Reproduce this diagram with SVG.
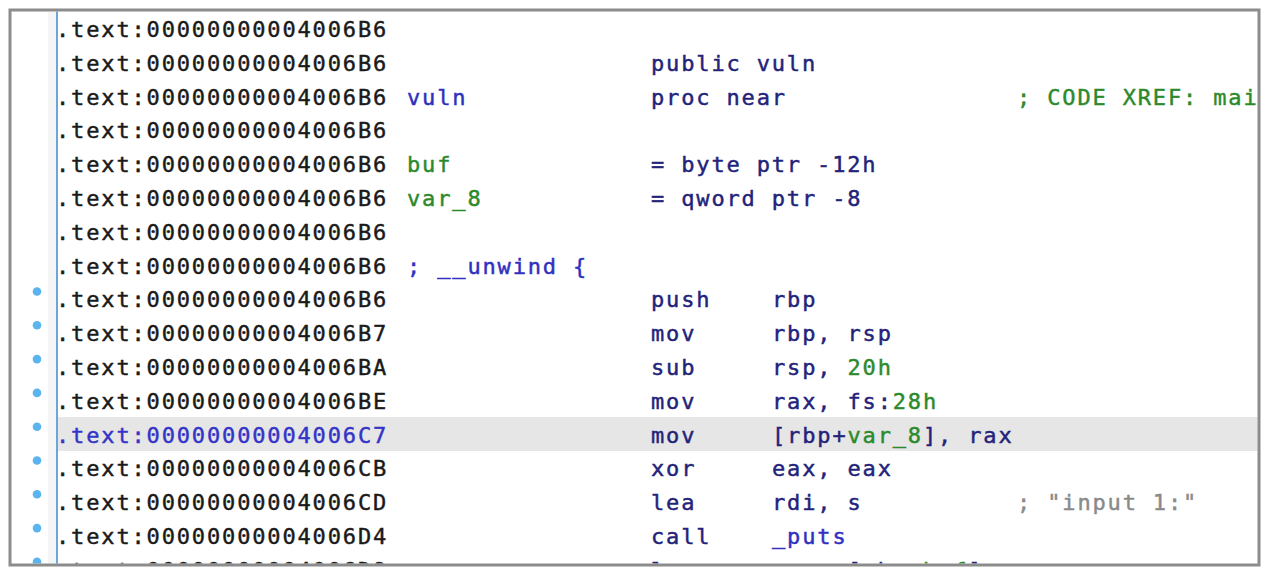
<svg xmlns="http://www.w3.org/2000/svg" width="1270" height="577" viewBox="0 0 1270 577">
<style>
text{font-family:"DejaVu Sans Mono","Liberation Mono",monospace;font-size:22px;letter-spacing:1.85px;white-space:pre;stroke-width:0.45px}
.a{fill:#1a1a1a;stroke:#1a1a1a}
.ah{fill:#3434c8;stroke:#3434c8}
.n{fill:#23237a;stroke:#23237a}
.b{fill:#3030c0;stroke:#3030c0}
.g{fill:#2c8a2c;stroke:#2c8a2c}
.c{fill:#8a8a8a;stroke:#8a8a8a}
.dot{fill:#5ab4ee}
</style>
<defs>
<clipPath id="clip"><rect x="11.5" y="11.5" width="1246" height="552"/></clipPath>
</defs>
<rect x="0" y="0" width="1270" height="577" fill="#ffffff"/>
<g id="listing" clip-path="url(#clip)">
<rect x="11" y="11" width="1248" height="554" fill="#ffffff"/>
<rect x="48" y="11" width="9" height="554" fill="#f5f5f5"/>
<rect id="highlight" x="58" y="417" width="1201" height="34" fill="#e6e6e6"/>
<line x1="57" y1="11" x2="57" y2="565" stroke="#6aa6dc" stroke-width="2"/>
<g id="dots">
<circle class="dot" cx="37" cy="291.5" r="4.3"/>
<circle class="dot" cx="37" cy="325.3" r="4.3"/>
<circle class="dot" cx="37" cy="359.1" r="4.3"/>
<circle class="dot" cx="37" cy="392.9" r="4.3"/>
<circle class="dot" cx="37" cy="426.7" r="4.3"/>
<circle class="dot" cx="37" cy="460.5" r="4.3"/>
<circle class="dot" cx="37" cy="494.3" r="4.3"/>
<circle class="dot" cx="37" cy="528.1" r="4.3"/>
<circle class="dot" cx="37" cy="561.9" r="4.3"/>
</g>
<g id="addresses" class="a">
<text x="56" y="37">.text:00000000004006B6</text>
<text x="56" y="70.8">.text:00000000004006B6</text>
<text x="56" y="104.6">.text:00000000004006B6</text>
<text x="56" y="138.4">.text:00000000004006B6</text>
<text x="56" y="172.2">.text:00000000004006B6</text>
<text x="56" y="206">.text:00000000004006B6</text>
<text x="56" y="239.8">.text:00000000004006B6</text>
<text x="56" y="273.6">.text:00000000004006B6</text>
<text x="56" y="307.4">.text:00000000004006B6</text>
<text x="56" y="341.2">.text:00000000004006B7</text>
<text x="56" y="375">.text:00000000004006BA</text>
<text x="56" y="408.8">.text:00000000004006BE</text>
<text x="56" y="442.6" class="ah">.text:00000000004006C7</text>
<text x="56" y="476.4">.text:00000000004006CB</text>
<text x="56" y="510.2">.text:00000000004006CD</text>
<text x="56" y="544">.text:00000000004006D4</text>
<text x="56" y="577.8">.text:00000000004006D9</text>
</g>
<g id="labels">
<text x="407" y="104.6" class="b">vuln</text>
<text x="407" y="172.2" class="g">buf</text>
<text x="407" y="206" class="g">var_8</text>
<text x="407" y="273.6" class="b">; __unwind {</text>
</g>
<g id="mnemonics" class="n">
<text x="651" y="70.8">public vuln</text>
<text x="651" y="104.6">proc near</text>
<text x="651" y="172.2">= byte ptr -12h</text>
<text x="651" y="206">= qword ptr -8</text>
<text x="651" y="307.4">push</text>
<text x="651" y="341.2">mov</text>
<text x="651" y="375">sub</text>
<text x="651" y="408.8">mov</text>
<text x="651" y="442.6">mov</text>
<text x="651" y="476.4">xor</text>
<text x="651" y="510.2">lea</text>
<text x="651" y="544">call</text>
<text x="651" y="577.8">lea</text>
</g>
<g id="operands" class="n">
<text x="772" y="307.4">rbp</text>
<text x="772" y="341.2">rbp, rsp</text>
<text x="772" y="375">rsp, <tspan class="g">20h</tspan></text>
<text x="772" y="408.8">rax, fs:<tspan class="g">28h</tspan></text>
<text x="772" y="442.6">[rbp+<tspan class="g">var_8</tspan>], rax</text>
<text x="772" y="476.4">eax, eax</text>
<text x="772" y="510.2">rdi, s</text>
<text x="772" y="544" class="b">_puts</text>
<text x="772" y="577.8">rax, [rbp+<tspan class="g">buf</tspan>]</text>
</g>
<g id="comments">
<text x="1017" y="104.6" class="g">; CODE XREF: mai</text>
<text x="1017" y="510.2" class="c">; "input 1:"</text>
</g>
</g>
<rect id="frame" x="10" y="10" width="1249" height="555" fill="none" stroke="#8c8c8c" stroke-width="3"/>
</svg>
